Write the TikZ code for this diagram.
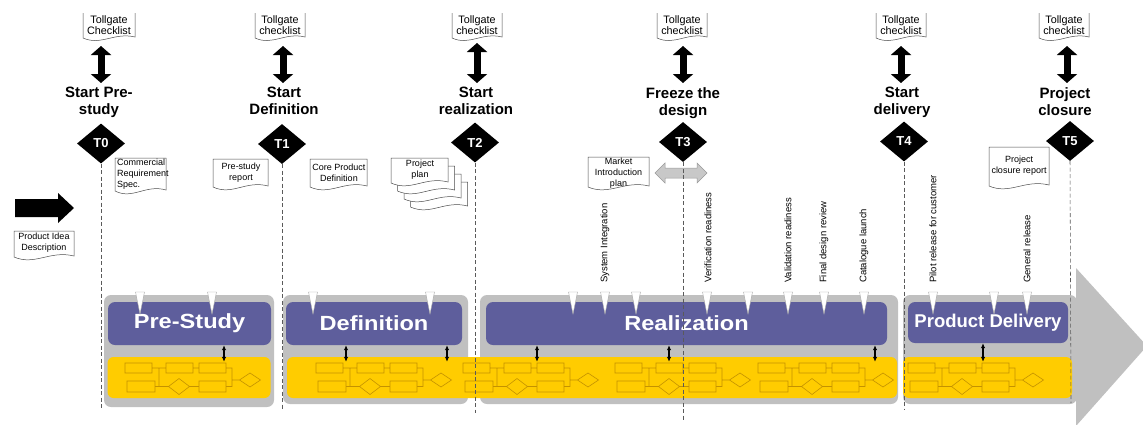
\documentclass[tikz,border=0pt]{standalone}
\usepackage{fontspec}
\usepackage{graphicx}
\setmainfont{Liberation Sans}
\usetikzlibrary{shapes.geometric,arrows.meta,calc}
\definecolor{phase}{RGB}{94,94,156}
\definecolor{bggrey}{RGB}{192,192,192}
\definecolor{lane}{RGB}{255,204,0}
\definecolor{flowc}{RGB}{196,146,0}
\definecolor{dashc}{RGB}{90,90,90}
\definecolor{lgrey}{RGB}{200,200,200}
\newcommand\docshape[5][]{%
  \filldraw[docline,#1] (#2,#3) -- (#2,#5) .. controls ({0.65*#2+0.35*#4},{#5+9}) and ({0.4*#2+0.6*#4},{#5-7}) .. (#4,{#5-1}) -- (#4,#3) -- cycle;}
\newcommand\docopen[4]{%
  \draw[docline] (#1,#2) -- (#1,#4) .. controls ({0.65*#1+0.35*#3},{#4+8}) and ({0.4*#1+0.6*#3},{#4-6}) .. (#3,{#4-1}) -- (#3,#2);}
\tikzset{
  flowchart/.pic={
    \draw[flowc, line width=0.6pt]
      (0,0) rectangle (27,10) (41,0) rectangle (68,10) (74,0) rectangle (101,10)
      (2,18) rectangle (30,29) (74,18) rectangle (101,29)
      (43.5,23.5) -- (54,15.5) -- (64.5,23.5) -- (54,31.5) -- cycle
      (114.5,17) -- (125,10) -- (135.5,17) -- (125,24) -- cycle
      (27,5) -- (41,5) (34,5) -- (34,23.5) (30,23.5) -- (43.5,23.5)
      (68,5) -- (74,5) (64.5,23.5) -- (74,23.5)
      (101,5) -- (107,5) -- (107,23.5) -- (101,23.5) (107,17) -- (114.5,17);
  }
}
\begin{document}
\begin{tikzpicture}[x=1pt,y=-1pt,
  doctext/.style={font=\fontsize{9}{11}\selectfont, align=center, inner sep=0},
  tgtext/.style={font=\fontsize{10.8}{10.8}\selectfont, align=center, inner sep=0},
  docline/.style={draw=black!70, line width=0.5pt, fill=white},
  milestone/.style={diamond, fill=black, text=white, font=\bfseries\fontsize{13}{13}\selectfont, minimum width=48pt, minimum height=40pt, inner sep=0},
  mslabel/.style={font=\bfseries\fontsize{15}{17}\selectfont, align=center, inner sep=0, anchor=north},
  tgarrow/.style={line width=7pt, {Triangle[width=20pt,length=9pt]}-{Triangle[width=20pt,length=9pt]}},
  msline/.style={draw=dashc, line width=0.55pt, dash pattern=on 4pt off 2.5pt},
  greybox/.style={fill=bggrey, rounded corners=7pt, inner sep=0},
  lanebox/.style={fill=lane, rounded corners=6pt, inner sep=0, minimum height=41pt},
  phasebox/.style={fill=phase, rounded corners=7pt, text=white, inner sep=0, font=\bfseries\fontsize{20.5}{22}\selectfont},
  smallarr/.style={line width=1.1pt, {Latex[length=5pt,width=4.5pt]}-{Latex[length=5pt,width=4.5pt]}},
  marker/.style={fill=white, draw=black!35, line width=0.4pt},
  mlabel/.style={rotate=90, anchor=west, font=\fontsize{9.5}{10}\selectfont, inner sep=0},
]
\useasboundingbox (0,0) rectangle (1143,424);
\fill[white] (0,0) rectangle (1143,424);

% big grey arrow body (phase backgrounds) and head
\node[greybox, minimum width=170pt, minimum height=112pt] (g1) at (189,351) {};
\node[greybox, minimum width=185pt, minimum height=109pt] (g2) at (375.5,349.5) {};
\node[greybox, minimum width=418pt, minimum height=109pt] (g3) at (689,349.5) {};
\node[greybox, minimum width=174pt, minimum height=109pt] (g4) at (990,349.5) {};
\fill[bggrey] (1076,268) -- (1147,346) -- (1076,426) -- cycle;

% yellow process lanes
\node[lanebox, minimum width=163pt] (l1) at (189,377.5) {};
\node[lanebox, minimum width=610pt] (l2) at (592,377.5) {};
\node[lanebox, minimum width=169pt] (l3) at (987.5,377.5) {};

% purple phase boxes
\node[phasebox, minimum width=163pt, minimum height=43pt] (ps) at (189.5,323.5) {\scalebox{1.15}[1]{Pre-Study}};
\node[phasebox, minimum width=176pt, minimum height=43pt] (df) at (374,323.5) {\scalebox{1.15}[1]{Definition}};
\node[phasebox, minimum width=401pt, minimum height=43pt] (rz) at (686.5,323.5) {\scalebox{1.15}[1]{Realization}};
\node[phasebox, minimum width=160pt, minimum height=41pt, font=\bfseries\fontsize{18.5}{20}\selectfont] (pd) at (988,322.5) {Product Delivery};

% mini process flows
\foreach \ox in {125,316,463,615,758,908} \pic at (\ox,363) {flowchart};

% links between phase boxes and lanes
\draw[smallarr] (224,0 |- ps.south) -- ($(224,0 |- l1.north)+(0,5)$);
\draw[smallarr] (346,0 |- df.south) -- ($(346,0 |- l2.north)+(0,5)$);
\draw[smallarr] (447,0 |- df.south) -- ($(447,0 |- l2.north)+(0,5)$);
\draw[smallarr] (537,0 |- rz.south) -- ($(537,0 |- l2.north)+(0,5)$);
\draw[smallarr] (669,0 |- rz.south) -- ($(669,0 |- l2.north)+(0,5)$);
\draw[smallarr] (875,0 |- rz.south) -- ($(875,0 |- l2.north)+(0,5)$);
\draw[smallarr] (983,0 |- pd.south) -- ($(983,0 |- l3.north)+(0,5)$);

% sub-milestone markers
\foreach \mx in {140,212,313,430,573,605,636,707,748,788,824,864,933,994,1027}
  \draw[marker] (\mx-4.5,292) -- (\mx+4.5,292) -- (\mx,314) -- cycle;

% sub-milestone labels
\node[mlabel] (m1) at (605,283) {System Integration};
\node[mlabel] (m2) at (708,283) {Verification readiness};
\node[mlabel] (m3) at (788,283) {Validation readiness};
\node[mlabel] (m4) at (824,283) {Final design review};
\node[mlabel] (m5) at (864,283) {Catalogue launch};
\node[mlabel] (m6) at (933,283) {Pilot release for customer};
\node[mlabel] (m7) at (1027,283) {General release};

% tollgate checklists
\docopen{83}{13}{135}{38}
\docopen{255}{13}{305}{38}
\docopen{452}{13}{502}{38}
\docopen{657}{13}{707}{38}
\docopen{876}{13}{926}{38}
\docopen{1039}{13}{1089}{38}
\node[tgtext] (tg0) at (109,25) {Tollgate\\Checklist};
\node[tgtext] (tg1) at (280,25) {Tollgate\\checklist};
\node[tgtext] (tg2) at (477,25) {Tollgate\\checklist};
\node[tgtext] (tg3) at (682,25) {Tollgate\\checklist};
\node[tgtext] (tg4) at (901,25) {Tollgate\\checklist};
\node[tgtext] (tg5) at (1064,25) {Tollgate\\checklist};

% milestone labels
\node[mslabel] (L0) at (99,87) {Start Pre-\\study};
\node[mslabel] (L1) at (284,87) {Start\\Definition};
\node[mslabel] (L2) at (476,87) {Start\\realization};
\node[mslabel] (L3) at (683,87) {Freeze the\\design};
\node[mslabel] (L4) at (902,87) {Start\\delivery};
\node[mslabel] (L5) at (1065,87) {Project\\closure};

% tollgate arrows
\coordinate (a0) at (101,46); \coordinate (b0) at (101,83);
\coordinate (a1) at (283,46); \coordinate (b1) at (283,83);
\coordinate (a2) at (477,43); \coordinate (b2) at (477,83);
\coordinate (a3) at (683,46); \coordinate (b3) at (683,83);
\coordinate (a4) at (901,46); \coordinate (b4) at (901,83);
\coordinate (a5) at (1067,46); \coordinate (b5) at (1067,83);
\foreach \i in {0,...,5} \draw[tgarrow] (a\i) -- (b\i);

% milestones
\node[milestone] (T0) at (101,143.5) {T0};
\node[milestone] (T1) at (282,144) {T1};
\node[milestone] (T2) at (475,142.5) {T2};
\node[milestone] (T3) at (683,142) {T3};
\node[milestone] (T4) at (904,141.5) {T4};
\node[milestone] (T5) at (1070,141) {T5};

% deliverable documents
\docshape{115}{158}{166}{191}
\node[doctext, align=left, anchor=west] (crs) at (117,174.5) {Commercial\\Requirement\\Spec.};
\docshape{213}{159}{268}{187}
\node[doctext] (psr) at (241,173) {Pre-study\\report};
\docshape{310}{159}{367}{187}
\node[doctext] (cpd) at (339,173) {Core Product\\Definition};
\docshape{410.5}{182}{467.5}{207}
\docshape{404}{174}{461}{199}
\docshape{397.5}{166}{454.5}{191}
\docshape{391}{158}{448}{183}
\node[doctext] (pp) at (420,170) {Project\\plan};
\docshape{588}{157}{649}{187}
\node[doctext] (mip) at (618.5,173.5) {Market\\Introduction\\plan};
\docshape{989}{147}{1049}{186}
\node[doctext] (pcr) at (1019,166) {Project\\closure report};
\docshape{14}{231}{74}{257}
\node[doctext] (pid) at (44,243) {Product Idea\\Description};

% input arrow
\fill[black] (15,199) -- (58,199) -- (58,193) -- (74,208) -- (58,223) -- (58,217) -- (15,217) -- cycle;

% freeze window arrow
\filldraw[fill=lgrey, draw=black!40, line width=0.5pt] (655,173) -- (665,163) -- (665,168) -- (697,168) -- (697,163) -- (707,173) -- (697,183) -- (697,178) -- (665,178) -- (665,183) -- cycle;

% milestone timelines
\coordinate (e0) at (101,410);
\coordinate (e1) at (282,410);
\coordinate (e2) at (475,413);
\coordinate (e3) at (683,422);
\coordinate (e4) at (904,410);
\coordinate (e5) at (1071,403);
\foreach \i in {0,...,5} \draw[msline] (T\i.south) -- (e\i);
\end{tikzpicture}
\end{document}
